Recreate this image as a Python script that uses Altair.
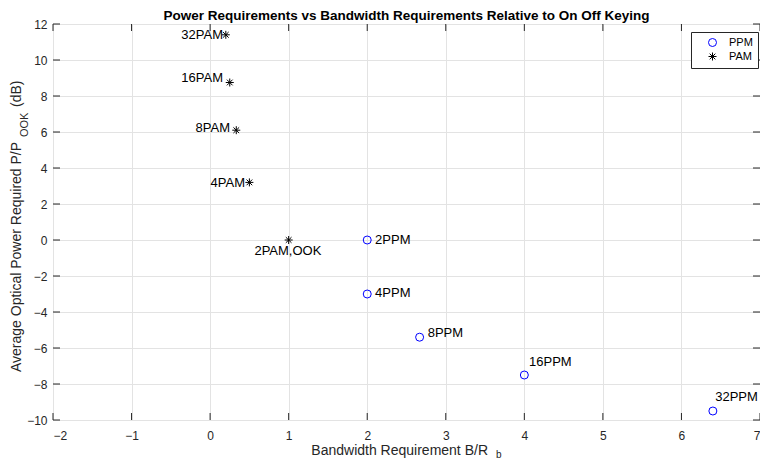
import altair as alt
import pandas as pd

# ---- data ----
ppm_names = ["2PPM", "4PPM", "8PPM", "16PPM", "32PPM"]
ppm_bw = [2.0, 2.0, 2.667, 4.0, 6.4]
ppm_pw = [0.0, -3.0, -5.4, -7.5, -9.5]
ppm_lx = [2.10, 2.10, 2.77, 4.06, 6.43]
ppm_ly = [0.0, -2.94, -5.17, -6.78, -8.72]

pam_names = ["2PAM,OOK", "4PAM", "8PAM", "16PAM", "32PAM"]
pam_bw = [1.0, 0.5, 0.333, 0.25, 0.2]
pam_pw = [0.0, 3.2, 6.1, 8.75, 11.4]
pam_lx = [0.99, 0.444, 0.253, 0.164, 0.164]
pam_ly = [-0.61, 3.17, 6.22, 9.0, 11.39]

x_ticks = [-2, -1, 0, 1, 2, 3, 4, 5, 6, 7]
y_ticks = [-10, -8, -6, -4, -2, 0, 2, 4, 6, 8, 10, 12]

W, H = 707, 396
FONT = "Liberation Sans"
DARK = "#262626"
STAR = "M-1,0L1,0M0,-1L0,1M-0.71,-0.71L0.71,0.71M-0.71,0.71L0.71,-0.71"

pts = pd.DataFrame({
    "bw": ppm_bw + pam_bw,
    "pw": ppm_pw + pam_pw,
    "series": ["PPM"] * len(ppm_bw) + ["PAM"] * len(pam_bw),
})
ppm_lab = pd.DataFrame({"lx": ppm_lx, "ly": ppm_ly, "name": ppm_names})
pam_lab = pd.DataFrame({"lx": pam_lx, "ly": pam_ly, "name": pam_names})
xt = pd.DataFrame({"v": x_ticks})
yt = pd.DataFrame({"v": y_ticks})

xscale = alt.Scale(domain=[-2, 7], nice=False, zero=False)
yscale = alt.Scale(domain=[-10, 12], nice=False, zero=False)

xaxis = alt.Axis(values=x_ticks, format="d", title=None, grid=True, gridColor="#e3e3e3", domain=False,
                 ticks=False, labelFontSize=12, labelColor=DARK, labelFont=FONT, labelPadding=10,
                 labelOverlap=False)
yaxis = alt.Axis(values=y_ticks, format="d", title=None, grid=True, gridColor="#e3e3e3", domain=False,
                 ticks=False, labelFontSize=12, labelColor=DARK, labelFont=FONT, labelPadding=6,
                 labelOverlap=False)

leg = alt.Legend(title=None, orient="none", legendX=638, legendY=8,
                 fillColor="white", strokeColor=DARK, padding=5,
                 labelFont=FONT, labelFontSize=11, labelColor="black",
                 symbolStrokeWidth=1, rowPadding=1, labelOffset=11,
                 symbolOffset=11, symbolSize=64)


def X(f):
    return alt.X(f, scale=xscale, axis=xaxis, title=None)


def Y(f):
    return alt.Y(f, scale=yscale, axis=yaxis, title=None)


points = alt.Chart(pts).mark_point(filled=False, strokeWidth=1, size=64, opacity=1).encode(
    x=X("bw:Q"),
    y=Y("pw:Q"),
    shape=alt.Shape("series:N", scale=alt.Scale(domain=["PPM", "PAM"], range=["circle", STAR]),
                    legend=leg),
    color=alt.Color("series:N", scale=alt.Scale(domain=["PPM", "PAM"], range=["#0000ff", "black"]),
                    legend=leg),
)

ppm_text = alt.Chart(ppm_lab).mark_text(align="left", baseline="middle", font=FONT, fontSize=13,
                                         color="black").encode(x=X("lx:Q"), y=Y("ly:Q"), text="name:N")
pam_right = alt.Chart(pam_lab).transform_filter("datum.name != '2PAM,OOK'").mark_text(
    align="right", baseline="middle", font=FONT, fontSize=13, color="black").encode(
    x=X("lx:Q"), y=Y("ly:Q"), text="name:N")
pam_center = alt.Chart(pam_lab).transform_filter("datum.name == '2PAM,OOK'").mark_text(
    align="center", baseline="middle", font=FONT, fontSize=13, color="black").encode(
    x=X("lx:Q"), y=Y("ly:Q"), text="name:N")

TL = 7
tick_b = alt.Chart(xt).mark_rule(color=DARK, strokeWidth=1).encode(
    x=X("v:Q"), y=alt.value(H), y2=alt.value(H - TL))
tick_t = alt.Chart(xt).mark_rule(color=DARK, strokeWidth=1).encode(
    x=X("v:Q"), y=alt.value(0), y2=alt.value(TL))
tick_l = alt.Chart(yt).mark_rule(color=DARK, strokeWidth=1).encode(
    y=Y("v:Q"), x=alt.value(0), x2=alt.value(TL))
tick_r = alt.Chart(yt).mark_rule(color=DARK, strokeWidth=1).encode(
    y=Y("v:Q"), x=alt.value(W), x2=alt.value(W - TL))

title_df = pd.DataFrame({"t": ["Power Requirements vs Bandwidth Requirements Relative to On Off Keying"]})
title = alt.Chart(title_df).mark_text(font=FONT, fontSize=13.5, fontWeight="bold", color="black",
                                      align="center", baseline="middle").encode(
    x=alt.value(W / 2), y=alt.value(-8), text="t:N")

xt_df = pd.DataFrame({"t": ["Bandwidth Requirement B/R"]})
xtitle = alt.Chart(xt_df).mark_text(font=FONT, fontSize=14, color=DARK, align="right",
                                    baseline="middle").encode(
    x=alt.value(435), y=alt.value(427), text="t:N")
xsub_df = pd.DataFrame({"t": ["b"]})
xsub = alt.Chart(xsub_df).mark_text(font=FONT, fontSize=10, color=DARK, align="left",
                                    baseline="middle").encode(
    x=alt.value(443), y=alt.value(431), text="t:N")

yt_df = pd.DataFrame({"t": ["Average Optical Power Required P/P"]})
ytitle = alt.Chart(yt_df).mark_text(font=FONT, fontSize=14, color=DARK, align="left",
                                    baseline="middle", angle=270).encode(
    x=alt.value(-36), y=alt.value(348), text="t:N")
ysub_df = pd.DataFrame({"t": ["OOK"]})
ysub = alt.Chart(ysub_df).mark_text(font=FONT, fontSize=11, color=DARK, align="left",
                                    baseline="middle", angle=270).encode(
    x=alt.value(-28), y=alt.value(113), text="t:N")
ydb_df = pd.DataFrame({"t": ["(dB)"]})
ydb = alt.Chart(ydb_df).mark_text(font=FONT, fontSize=14, color=DARK, align="left",
                                  baseline="middle", angle=270).encode(
    x=alt.value(-36), y=alt.value(83), text="t:N")

chart = alt.layer(
    points, tick_b, tick_t, tick_l, tick_r, ppm_text, pam_right, pam_center,
    title, xtitle, xsub, ytitle, ysub, ydb
).properties(
    width=W, height=H,
    autosize=alt.AutoSizeParams(type="none"),
    padding={"left": 45, "top": 16, "right": 0, "bottom": 40},
).configure_view(stroke=DARK, strokeWidth=1).configure(background="white")

chart.save("out.html", embed_options={"renderer": "svg", "actions": False})
